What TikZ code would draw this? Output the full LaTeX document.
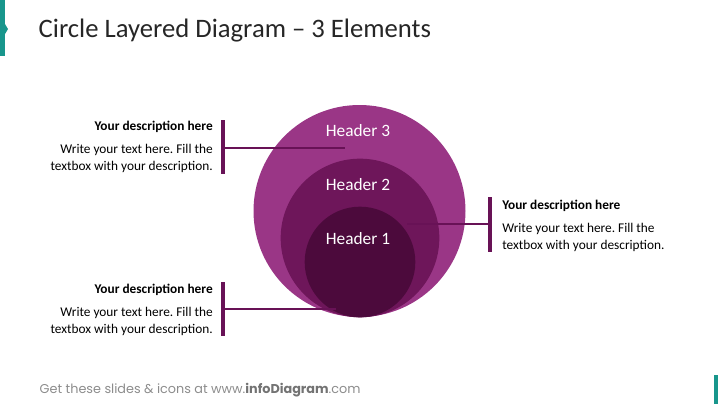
\documentclass[tikz,border=0pt]{standalone}
\usepackage{fontspec}
\setmainfont{Carlito}
\newfontfamily\footfont{Poppins}
\usetikzlibrary{positioning}
\frenchspacing

\definecolor{teal1}{RGB}{24,150,140}
\definecolor{purp3}{RGB}{154,54,134}
\definecolor{purp2}{RGB}{110,22,90}
\definecolor{purp1}{RGB}{76,10,60}
\definecolor{barcol}{RGB}{104,18,86}

\begin{document}
\begin{tikzpicture}[x=0.75pt, y=-0.75pt,
  layer/.style = {circle, inner sep=0pt, draw=none},
  head/.style = {text=white, font=\fontsize{13}{15}\selectfont},
  desc/.style = {font=\fontsize{10}{12.8}\selectfont, inner sep=0pt},
  bar/.style = {barcol, line width=2.4pt},
  link/.style = {barcol, line width=0.8pt}]
\useasboundingbox (0,0) rectangle (718,404);

% corner marks
\fill[teal1] (0,0) rectangle (5,56);
\fill[teal1] (5,24) -- (8,29) -- (5,34) -- cycle;
\fill[teal1] (714,375) rectangle (718,404);

% title
\node[anchor=west, font=\fontsize{20}{22}\selectfont, text=black!85] (title) at (34,31) {Circle Layered Diagram -- 3 Elements};

% layered circles
\node[layer, fill=purp3, minimum size=159pt] (c3) at (359.5,211) {};
\node[layer, fill=purp2, minimum size=119pt] (c2) at (360,238) {};
\node[layer, fill=purp1, minimum size=83pt] (c1) at (360,262) {};

\node[head] (h3) at (358,131) {Header 3};
\node[head] (h2) at (358,185) {Header 2};
\node[head] (h1) at (358,239) {Header 1};

% descriptions
\node[desc, anchor=north east, align=right] (d3) at (213,121) {\textbf{Your description here}\\[4.5pt]Write your text here. Fill the\\textbox with your description.};
\node[desc, anchor=north east, align=right] (d1) at (213,284) {\textbf{Your description here}\\[4.5pt]Write your text here. Fill the\\textbox with your description.};
\node[desc, anchor=north west, align=left] (d2) at (502,200) {\textbf{Your description here}\\[4.5pt]Write your text here. Fill the\\textbox with your description.};

% bars and links
\coordinate (b3) at (223,148);
\coordinate (b1) at (223,309);
\coordinate (b2) at (490,224);
\coordinate (p3) at (345,148);
\coordinate (p1) at (336,309);
\coordinate (p2) at (407,224);
\draw[bar] (223,120) -- (223,174);
\draw[bar] (223,282) -- (223,336);
\draw[bar] (490,197) -- (490,252);
\draw[link] (b3) -- (p3);
\draw[link] (b1) -- (p1);
\draw[link] (b2) -- (p2);

% footer
\node[anchor=west, text=black!45, font=\footfont\fontsize{9.6}{11}\selectfont] (foot) at (35,390) {Get these slides \& icons at www.\textbf{\textcolor{black!55}{infoDiagram}}.com};
\end{tikzpicture}
\end{document}
